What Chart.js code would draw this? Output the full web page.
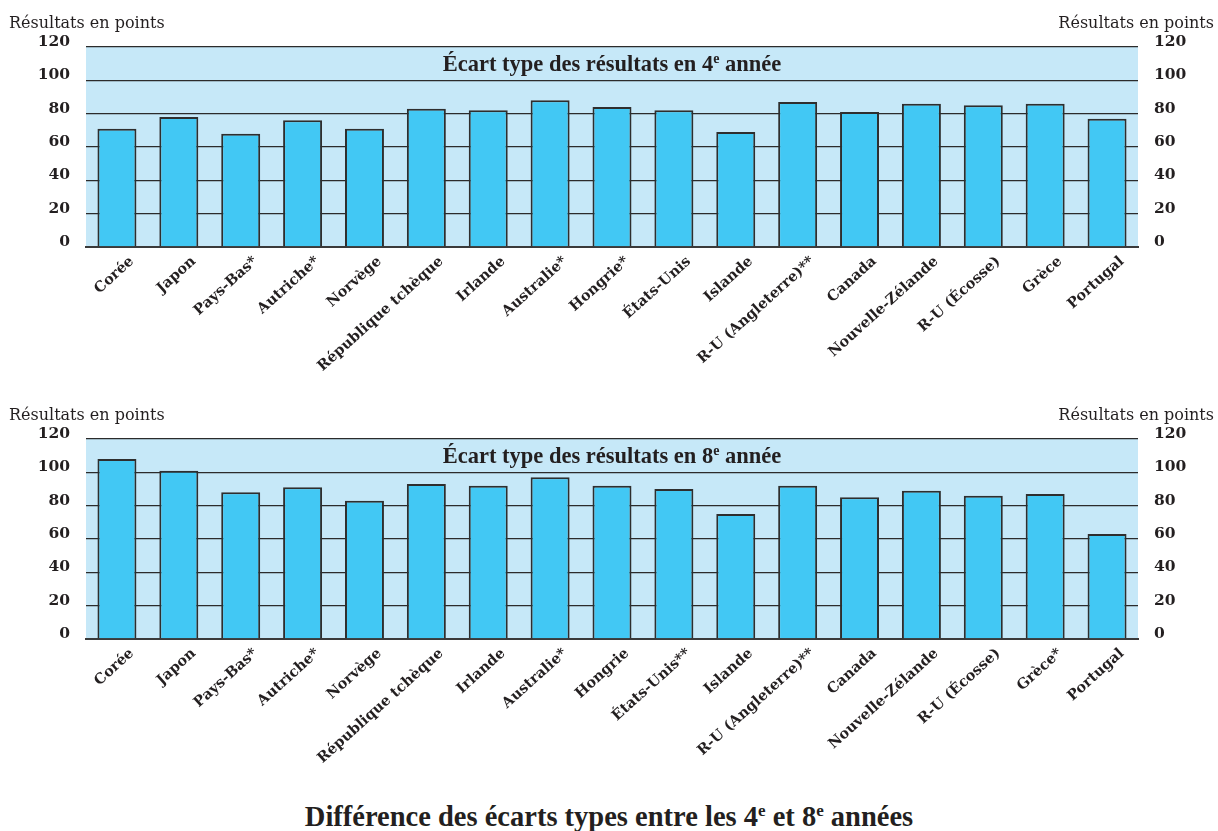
<!DOCTYPE html>
<html lang="fr">
<head>
<meta charset="utf-8">
<title>Écart type des résultats</title>
<script src="https://cdn.jsdelivr.net/npm/chart.js@4/dist/chart.umd.min.js"></script>
<style>
  html, body { margin: 0; padding: 0; background: #ffffff; }
  body { width: 1218px; height: 831px; position: relative; overflow: hidden; }
  .panel { position: absolute; left: 0; width: 1218px; height: 390px; }
  #panel4 { top: 0; }
  #panel8 { top: 392px; }
  .panel canvas { display: block; }
  #footTitle {
    position: absolute; left: 0; width: 1218px; top: 801px;
    text-align: center; color: #231f20;
    font-family: "Liberation Serif", "Times New Roman", serif;
    font-weight: bold; font-size: 28.5px; line-height: 32px;
  }
  #footTitle sup { font-size: 17px; vertical-align: 10px; line-height: 0; }
</style>
</head>
<body>
<div class="panel" id="panel4"><canvas id="chart4" width="1218" height="390"></canvas></div>
<div class="panel" id="panel8"><canvas id="chart8" width="1218" height="390"></canvas></div>
<div id="footTitle">Différence des écarts types entre les 4<sup>e</sup> et 8<sup>e</sup> années</div>

<script>
// Pays (4e année)
const categories4 = ['Corée', 'Japon', 'Pays-Bas*', 'Autriche*', 'Norvège', 'République tchèque',
  'Irlande', 'Australie*', 'Hongrie*', 'États-Unis', 'Islande', 'R-U (Angleterre)**',
  'Canada', 'Nouvelle-Zélande', 'R-U (Écosse)', 'Grèce', 'Portugal'];
// Écart type des résultats, 4e année
const values4 = [71, 78, 68, 76, 71, 83, 82, 88, 84, 82, 69, 87, 81, 86, 85, 86, 77];

// Pays (8e année)
const categories8 = ['Corée', 'Japon', 'Pays-Bas*', 'Autriche*', 'Norvège', 'République tchèque',
  'Irlande', 'Australie*', 'Hongrie', 'États-Unis**', 'Islande', 'R-U (Angleterre)**',
  'Canada', 'Nouvelle-Zélande', 'R-U (Écosse)', 'Grèce*', 'Portugal'];
// Écart type des résultats, 8e année
const values8 = [108, 101, 88, 91, 83, 93, 92, 97, 92, 90, 75, 92, 85, 89, 86, 87, 63];

// Graduations de l'axe des points
const yTicks = [0, 20, 40, 60, 80, 100, 120];

const axisTitle = 'Résultats en points';

const INK = '#231f20';
const PLOT_BG = '#c6e8f8';
const BAR_FILL = '#42c8f4';
const BAR_EDGE = '#2e2e2e';
const GRID = '#2b2b2b';

// Plot background, in-band heading and the two axis captions
const panelDecor = {
  id: 'panelDecor',
  beforeDraw(chart) {
    const { ctx, chartArea: a } = chart;
    ctx.save();
    ctx.fillStyle = PLOT_BG;
    ctx.fillRect(a.left, a.top, a.right - a.left, a.bottom - a.top);
    ctx.restore();
  },
  afterDraw(chart, args, opts) {
    const { ctx, chartArea: a, scales } = chart;
    ctx.save();
    ctx.fillStyle = INK;

    // Axis captions above each tick column
    ctx.font = '16px "DejaVu Serif", serif';
    ctx.textBaseline = 'alphabetic';
    ctx.textAlign = 'left';
    ctx.fillText(axisTitle, 9, 28);
    ctx.textAlign = 'right';
    ctx.fillText(axisTitle, chart.width - 4, 28);

    // Heading between the 100 and 120 gridlines, with superscript "e"
    const yMid = (scales.y.getPixelForValue(100) + scales.y.getPixelForValue(120)) / 2;
    const parts = [
      { t: opts.before, f: 'bold 22.5px "Liberation Serif", serif', dy: 0 },
      { t: 'e', f: 'bold 14px "Liberation Serif", serif', dy: -8 },
      { t: opts.after, f: 'bold 22.5px "Liberation Serif", serif', dy: 0 }
    ];
    let total = 0;
    parts.forEach(p => { ctx.font = p.f; p.w = ctx.measureText(p.t).width; total += p.w; });
    let x = (a.left + a.right) / 2 - total / 2;
    ctx.textAlign = 'left';
    ctx.textBaseline = 'alphabetic';
    const base = yMid + 7;
    parts.forEach(p => { ctx.font = p.f; ctx.fillText(p.t, x, base + p.dy); x += p.w; });
    ctx.restore();
  }
};

function makeChart(id, labels, values, grade) {
  const tickFont = { family: '"DejaVu Serif", serif', weight: 'bold', size: 15.5 };
  return new Chart(document.getElementById(id), {
    type: 'bar',
    data: {
      labels: labels,
      datasets: [{
        data: values,
        backgroundColor: BAR_FILL,
        borderColor: BAR_EDGE,
        borderWidth: 2,
        borderSkipped: 'start',
        barPercentage: 0.63,
        categoryPercentage: 1.0
      }]
    },
    options: {
      responsive: false,
      animation: false,
      events: [],
      layout: { padding: { top: 47, left: 0, right: 0, bottom: 0 } },
      plugins: {
        legend: { display: false },
        tooltip: { enabled: false },
        panelDecor: { before: 'Écart type des résultats en ' + grade, after: ' année' }
      },
      scales: {
        x: {
          grid: { display: false, drawTicks: false },
          border: { display: true, color: '#3a3a3a', width: 2 },
          ticks: {
            autoSkip: false,
            minRotation: 42,
            maxRotation: 42,
            padding: 6,
            labelOffset: 15,
            color: INK,
            font: { family: '"DejaVu Serif", serif', weight: 'bold', size: 14.5 }
          },
          afterFit(scale) { scale.height = 143; }
        },
        y: {
          position: 'left',
          min: 0,
          max: 120,
          afterBuildTicks(scale) { scale.ticks = yTicks.map(v => ({ value: v })); },
          grid: { color: GRID, lineWidth: 1.3, drawTicks: false },
          border: { display: false },
          ticks: { padding: 16, labelOffset: -5, color: INK, font: tickFont },
          afterFit(scale) { scale.width = 86; }
        },
        y2: {
          position: 'right',
          min: 0,
          max: 120,
          afterBuildTicks(scale) { scale.ticks = yTicks.map(v => ({ value: v })); },
          grid: { display: false, drawTicks: false },
          border: { display: false },
          ticks: { padding: 16, labelOffset: -5, color: INK, font: tickFont },
          afterFit(scale) { scale.width = 80; }
        }
      }
    },
    plugins: [panelDecor]
  });
}

makeChart('chart4', categories4, values4, '4');
makeChart('chart8', categories8, values8, '8');
</script>
</body>
</html>
